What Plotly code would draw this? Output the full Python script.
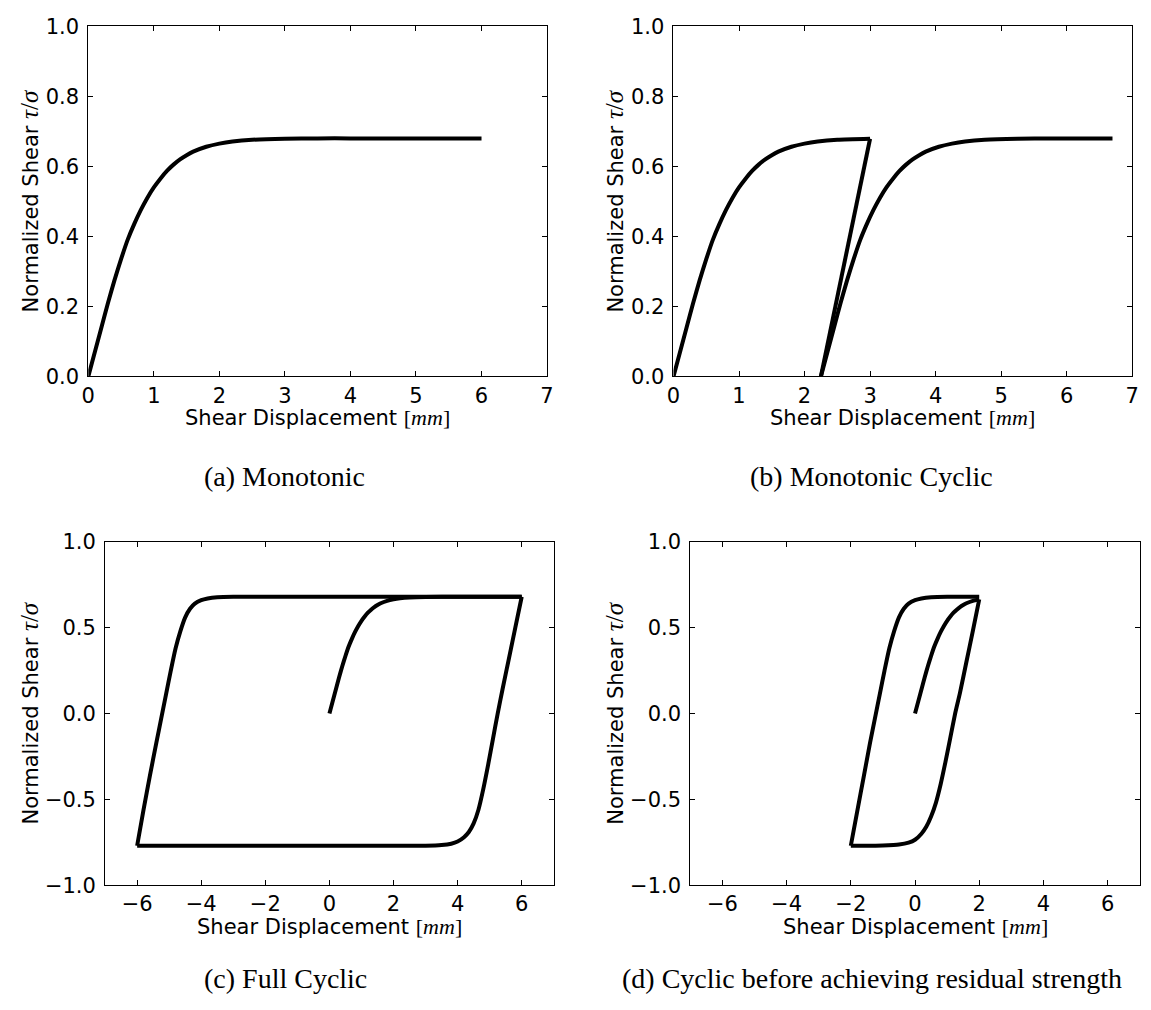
import plotly.graph_objects as go

W, H = 1151, 1010

# ---- (a) Monotonic loading ----
mono_x = [0, 0.1, 0.2, 0.3, 0.4, 0.5, 0.6, 0.7, 0.8, 0.9, 1.0, 1.1, 1.2, 1.3,
          1.4, 1.5, 1.6, 1.8, 2.0, 2.2, 2.5, 3.0, 3.5, 4.0, 5.0, 6.0]
mono_y = [0, 0.07, 0.14, 0.21, 0.275, 0.335, 0.39, 0.435, 0.475, 0.51, 0.54,
          0.565, 0.587, 0.605, 0.62, 0.632, 0.642, 0.656, 0.665, 0.671, 0.676,
          0.679, 0.68, 0.68, 0.68, 0.68]

# ---- (b) Monotonic cyclic: load, unload, reload ----
mc_load_x = [0, 0.1, 0.2, 0.3, 0.4, 0.5, 0.6, 0.7, 0.8, 0.9, 1.0, 1.1, 1.2,
             1.3, 1.4, 1.5, 1.6, 1.8, 2.0, 2.2, 2.5, 3.0]
mc_load_y = [0, 0.07, 0.14, 0.21, 0.275, 0.335, 0.39, 0.435, 0.475, 0.51, 0.54,
             0.565, 0.587, 0.605, 0.62, 0.632, 0.642, 0.656, 0.665, 0.671,
             0.676, 0.679]
mc_unload_x = [3.0, 2.25]
mc_unload_y = [0.679, 0.0]
mc_reload_x = [2.25, 2.35, 2.45, 2.55, 2.65, 2.75, 2.85, 2.95, 3.05, 3.15,
               3.25, 3.35, 3.45, 3.55, 3.65, 3.75, 3.85, 4.05, 4.25, 4.45,
               4.75, 5.25, 5.75, 6.7]
mc_reload_y = [0, 0.07, 0.14, 0.21, 0.275, 0.335, 0.39, 0.435, 0.475, 0.51,
               0.54, 0.565, 0.587, 0.605, 0.62, 0.632, 0.642, 0.656, 0.665,
               0.671, 0.676, 0.679, 0.68, 0.68]

# ---- (c) Full cyclic, +/- 6 mm ----
fc_init_x = [0, 0.1, 0.2, 0.3, 0.4, 0.5, 0.6, 0.7, 0.8, 0.9, 1.0, 1.1, 1.2,
             1.3, 1.4, 1.5, 1.6, 1.8, 2.0, 2.2, 2.5, 3.0, 4.0, 5.0, 6.0]
fc_init_y = [0, 0.07, 0.14, 0.21, 0.275, 0.335, 0.39, 0.435, 0.475, 0.51, 0.54,
             0.565, 0.587, 0.605, 0.62, 0.632, 0.642, 0.656, 0.665, 0.671,
             0.676, 0.679, 0.68, 0.68, 0.68]
fc_down_x = [6.0, 5.8, 5.6, 5.4, 5.25, 5.1, 4.95, 4.8, 4.65, 4.5, 4.35, 4.2,
             4.0, 3.8, 3.5, 3.0, 2.0, 0.0, -2.0, -4.0, -6.0]
fc_down_y = [0.68, 0.5, 0.32, 0.14, 0.0, -0.15, -0.3, -0.44, -0.56, -0.64,
             -0.69, -0.72, -0.745, -0.758, -0.766, -0.77, -0.77, -0.77, -0.77,
             -0.77, -0.77]
fc_up_x = [-6.0, -5.8, -5.6, -5.4, -5.25, -5.1, -4.95, -4.8, -4.65, -4.5,
           -4.35, -4.2, -4.0, -3.8, -3.5, -3.0, -2.0, 0.0, 2.0, 4.0, 6.0]
fc_up_y = [-0.77, -0.56, -0.36, -0.17, -0.03, 0.11, 0.25, 0.38, 0.48, 0.56,
           0.61, 0.64, 0.66, 0.67, 0.677, 0.68, 0.68, 0.68, 0.68, 0.68, 0.68]

# ---- (d) Cyclic, +/- 2 mm ----
cy_init_x = [0, 0.1, 0.2, 0.3, 0.4, 0.5, 0.6, 0.7, 0.8, 0.9, 1.0, 1.1, 1.2,
             1.3, 1.4, 1.5, 1.6, 1.8, 2.0]
cy_init_y = [0, 0.07, 0.14, 0.21, 0.275, 0.335, 0.39, 0.435, 0.475, 0.51, 0.54,
             0.565, 0.587, 0.605, 0.62, 0.632, 0.642, 0.656, 0.665]
cy_down_x = [2.0, 1.8, 1.6, 1.4, 1.25, 1.1, 0.95, 0.8, 0.65, 0.5, 0.35, 0.2,
             0.0, -0.2, -0.5, -1.0, -1.5, -2.0]
cy_down_y = [0.665, 0.48, 0.3, 0.12, 0.0, -0.14, -0.28, -0.41, -0.52, -0.6,
             -0.66, -0.7, -0.735, -0.752, -0.763, -0.768, -0.77, -0.77]
cy_up_x = [-2.0, -1.8, -1.6, -1.4, -1.25, -1.1, -0.95, -0.8, -0.65, -0.5,
           -0.35, -0.2, 0.0, 0.2, 0.5, 1.0, 1.5, 2.0]
cy_up_y = [-0.77, -0.57, -0.37, -0.17, -0.03, 0.11, 0.25, 0.38, 0.48, 0.56,
           0.61, 0.64, 0.66, 0.67, 0.677, 0.68, 0.68, 0.68]

captions = ["(a) Monotonic", "(b) Monotonic Cyclic", "(c) Full Cyclic",
            "(d) Cyclic before achieving residual strength"]

# plot-area boxes in pixels: (left, right, top, bottom)
boxes = [(82.3, 546.7, 14.7, 373.3),
         (674.7, 1139.0, 14.7, 373.3),
         (99.3, 553.5, 542.7, 894.5),
         (691.7, 1146.7, 542.7, 894.5)]
caption_pos = [(281, 476), (875, 476), (282, 990), (876, 990)]

MAIN_FONT = "DejaVu Sans"
MATH_FONT = "Liberation Serif"

fig = go.Figure()

series = [
    (1, [(mono_x, mono_y, "spline")]),
    (2, [(mc_load_x, mc_load_y, "spline"), (mc_unload_x, mc_unload_y, "linear"),
         (mc_reload_x, mc_reload_y, "spline")]),
    (3, [(fc_init_x, fc_init_y, "spline"), (fc_down_x, fc_down_y, "spline"),
         (fc_up_x, fc_up_y, "spline")]),
    (4, [(cy_init_x, cy_init_y, "spline"), (cy_down_x, cy_down_y, "spline"),
         (cy_up_x, cy_up_y, "spline")]),
]
for idx, parts in series:
    sfx = "" if idx == 1 else str(idx)
    for xs, ys, shape in parts:
        fig.add_trace(go.Scatter(
            x=xs, y=ys, mode="lines",
            line=dict(color="black", width=4, shape=shape, smoothing=0.6),
            xaxis="x" + sfx, yaxis="y" + sfx, showlegend=False,
            hoverinfo="skip"))

axis_common = dict(
    showline=True, linecolor="black", linewidth=1, mirror="allticks",
    ticks="inside", ticklen=5, tickwidth=1, tickcolor="black",
    showgrid=False, zeroline=False, fixedrange=True,
    tickfont=dict(family=MAIN_FONT, size=21, color="black"),
)

layout = dict(
    width=W, height=H, margin=dict(l=0, r=0, t=0, b=0),
    paper_bgcolor="white", plot_bgcolor="white", showlegend=False,
)
annotations = []
for i, (l, r, t, b) in enumerate(boxes):
    sfx = "" if i == 0 else str(i + 1)
    top_row = i < 2
    xa = dict(axis_common, domain=[l / W, r / W], anchor="y" + sfx,
              ticklabelstandoff=0)
    ya = dict(axis_common, domain=[1 - b / H, 1 - t / H], anchor="x" + sfx,
              ticklabelstandoff=4)
    if top_row:
        xa.update(range=[0, 7], tickmode="linear", tick0=0, dtick=1)
        ya.update(range=[0, 1], tickmode="linear", tick0=0, dtick=0.2,
                  tickformat=".1f")
    else:
        xa.update(range=[-7, 7], tickmode="linear", tick0=-6, dtick=2)
        ya.update(range=[-1, 1], tickmode="linear", tick0=-1, dtick=0.5,
                  tickformat=".1f")
    layout["xaxis" + sfx] = xa
    layout["yaxis" + sfx] = ya

    # x-axis title
    annotations.append(dict(
        x=(l + r) / 2 / W, y=1 - (b + 42) / H, xref="paper", yref="paper",
        text=('Shear Displacement <span style="font-family:%s;font-size:22px">'
              '[<i>mm</i>]</span>' % MATH_FONT),
        showarrow=False, font=dict(family=MAIN_FONT, size=21, color="black"),
        xanchor="center", yanchor="middle"))
    # y-axis title
    annotations.append(dict(
        x=(l - 60 if top_row else l - 77) / W, y=1 - (t + b) / 2 / H,
        xref="paper", yref="paper", textangle=-90,
        text=('Normalized Shear <span style="font-family:%s;font-size:25px">'
              '<i>τ</i>/<i>σ</i></span>' % MATH_FONT),
        showarrow=False, font=dict(family=MAIN_FONT, size=21, color="black"),
        xanchor="center", yanchor="middle"))
    # subfigure caption
    cx, cy = caption_pos[i]
    annotations.append(dict(
        x=cx / W, y=1 - cy / H, xref="paper", yref="paper",
        text=captions[i], showarrow=False,
        font=dict(family=MATH_FONT, size=28, color="black"),
        xanchor="center", yanchor="middle"))

layout["annotations"] = annotations
fig.update_layout(**layout)
fig.write_html("out.html")
